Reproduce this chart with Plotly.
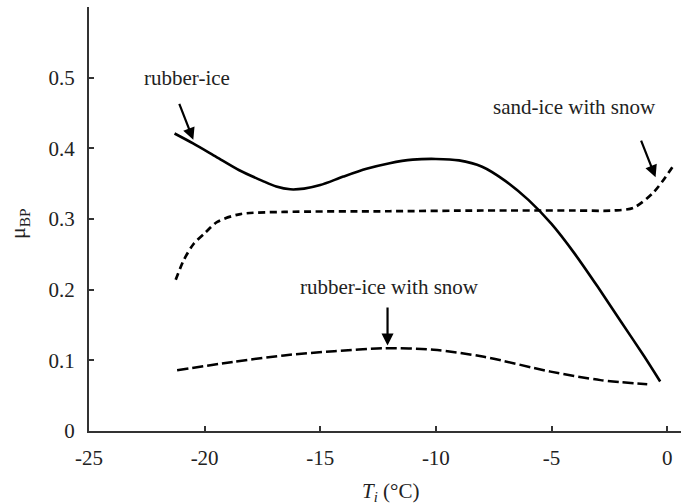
import plotly.graph_objects as go

# ---- data ----
rubber_ice_x = [-21.3, -20.5, -19.5, -18.5, -17.5, -16.9, -16.3, -15.7, -15.0, -14.0, -13.0, -12.0, -11.0,
                -10.0, -9.0, -8.0, -7.0, -6.0, -5.0, -4.0, -3.0, -2.0, -1.0, -0.3]
rubber_ice_y = [0.421, 0.407, 0.388, 0.369, 0.354, 0.346, 0.342, 0.343, 0.348, 0.360, 0.371, 0.379, 0.384,
                0.385, 0.383, 0.374, 0.354, 0.327, 0.293, 0.251, 0.204, 0.155, 0.106, 0.070]

sand_ice_snow_x = [-21.25, -20.9, -20.47, -19.96, -19.45, -18.45, -16.57, -12.0, -8.0, -4.0, -2.3, -1.45, -0.58, 0.28]
sand_ice_snow_y = [0.214, 0.242, 0.265, 0.281, 0.296, 0.307, 0.310, 0.311, 0.312, 0.312, 0.312, 0.316, 0.338, 0.376]

rubber_ice_snow_x = [-21.19, -18.74, -16.57, -14.4, -12.25, -10.09, -7.92, -5.04, -2.88, -0.86]
rubber_ice_snow_y = [0.086, 0.098, 0.107, 0.113, 0.117, 0.115, 0.105, 0.084, 0.072, 0.066]

x_ticks = [-25, -20, -15, -10, -5, 0]
x_tick_text = ["-25", "-20", "-15", "-10", "-5", "0"]
y_ticks = [0, 0.1, 0.2, 0.3, 0.4, 0.5]
y_tick_text = ["0", "0.1", "0.2", "0.3", "0.4", "0.5"]

FONT = "Liberation Serif"
TXT = "#222222"

fig = go.Figure()
fig.add_trace(go.Scatter(x=rubber_ice_x, y=rubber_ice_y, mode="lines",
                         line=dict(color="black", width=2.6, shape="spline", smoothing=0.8),
                         name="rubber-ice"))
fig.add_trace(go.Scatter(x=sand_ice_snow_x, y=sand_ice_snow_y, mode="lines",
                         line=dict(color="black", width=2.7, shape="spline", smoothing=0.8, dash="7px,4.5px"),
                         name="sand-ice with snow"))
fig.add_trace(go.Scatter(x=rubber_ice_snow_x, y=rubber_ice_snow_y, mode="lines",
                         line=dict(color="black", width=2.5, shape="spline", smoothing=0.8, dash="11px,4px"),
                         name="rubber-ice with snow"))

annots = []
def label(x, y, text):
    annots.append(dict(x=x, y=y, xref="x", yref="y", text=text, showarrow=False,
                       font=dict(family=FONT, size=21, color=TXT), xanchor="center", yanchor="middle"))
def arrow(x0, y0, x1, y1):
    annots.append(dict(x=x1, y=y1, ax=x0, ay=y0, xref="x", yref="y", axref="x", ayref="y",
                       text="", showarrow=True, arrowhead=2, arrowsize=1.1, arrowwidth=2.2,
                       arrowcolor="black", standoff=0, startstandoff=0))

label(-20.78, 0.500, "rubber-ice")
arrow(-21.12, 0.465, -20.49, 0.412)
label(-4.01, 0.458, "sand-ice with snow")
arrow(-1.15, 0.413, -0.50, 0.359)
label(-12.0, 0.204, "rubber-ice with snow")
arrow(-12.09, 0.177, -12.09, 0.121)

# axis titles
annots.append(dict(x=-0.117, y=0.49, xref="paper", yref="paper", text="μ<sub>BP</sub>",
                   textangle=-90, showarrow=False, xanchor="center", yanchor="middle",
                   font=dict(family=FONT, size=22, color=TXT)))
annots.append(dict(x=0.51, y=-0.144, xref="paper", yref="paper",
                   text="<i>T</i><sub><i>i</i></sub> (°C)", showarrow=False,
                   xanchor="center", yanchor="middle",
                   font=dict(family=FONT, size=21, color=TXT)))

fig.update_layout(
    width=681, height=504, autosize=False,
    margin=dict(l=89, r=0, t=7, b=73),
    paper_bgcolor="white", plot_bgcolor="white",
    showlegend=False,
    annotations=annots,
    xaxis=dict(range=[-25, 0.6], tickvals=x_ticks, ticktext=x_tick_text, ticks="inside", ticklen=5,
               tickwidth=1.5, tickcolor="#333", showline=True, linecolor="#333", linewidth=2,
               showgrid=False, zeroline=False, ticklabelstandoff=7,
               tickfont=dict(family=FONT, size=21, color=TXT)),
    yaxis=dict(range=[0, 0.6], tickvals=y_ticks, ticktext=y_tick_text, ticks="inside", ticklen=5,
               tickwidth=1.5, tickcolor="#333", showline=True, linecolor="#333", linewidth=2,
               showgrid=False, zeroline=False, ticklabelstandoff=8,
               tickfont=dict(family=FONT, size=21, color=TXT)),
)

fig.write_html("out.html")
